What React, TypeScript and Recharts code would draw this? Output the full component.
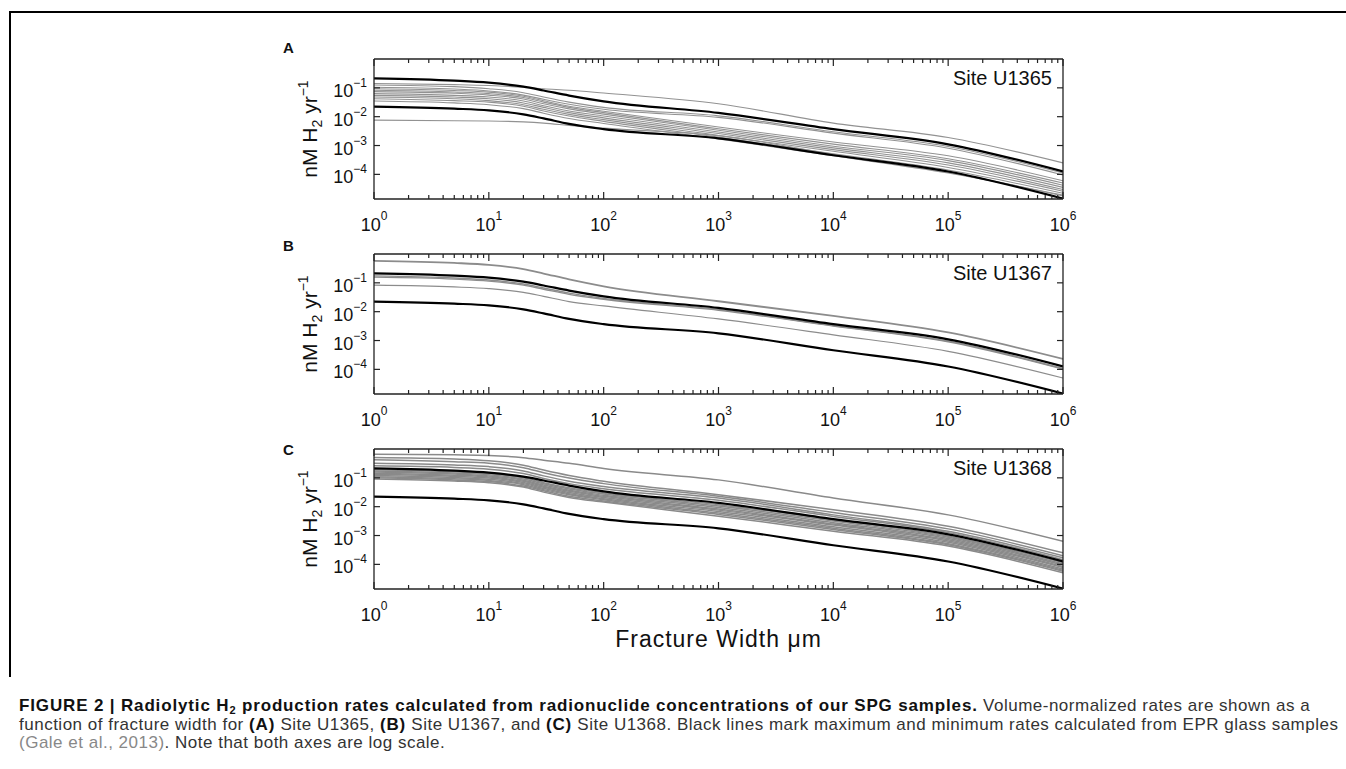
import { LineChart, Line, XAxis, YAxis } from 'recharts';

const widths = [1, 5, 10, 20, 30, 50, 100, 1000, 10000, 100000, 1000000];
const xMajor = [1, 10, 100, 1000, 10000, 100000, 1000000];
const yMajor = [1e-4, 1e-3, 1e-2, 1e-1];

// EPR glass max / min (black lines, same in every panel)
const eprMax = [2.14e-1, 1.78e-1, 1.51e-1, 1.1e-1, 8.1e-2, 5.4e-2, 3.4e-2, 1.35e-2, 3.7e-3, 1.1e-3, 1.26e-4];
const eprMin = [2.24e-2, 1.9e-2, 1.66e-2, 1.2e-2, 8.7e-3, 5.6e-3, 3.7e-3, 1.78e-3, 4.6e-4, 1.26e-4, 1.45e-5];

// Site U1365 samples
const u1365 = [
  [1.41e-1, 1.29e-1, 1.2e-1, 1.05e-1, 9.3e-2, 8.3e-2, 6.6e-2, 2.8e-2, 6.0e-3, 1.9e-3, 2.5e-4],
  [1.26e-1, 1.1e-1, 9.3e-2, 6.8e-2, 4.8e-2, 3.2e-2, 2.1e-2, 1.07e-2, 3.0e-3, 9.3e-4, 1.12e-4],
  [1.05e-1, 9.1e-2, 7.8e-2, 5.6e-2, 4.0e-2, 2.7e-2, 1.8e-2, 9.5e-3, 2.7e-3, 8.1e-4, 9.5e-5],
  [9.3e-2, 8.1e-2, 7.1e-2, 5.1e-2, 3.55e-2, 2.3e-2, 1.55e-2, 4.4e-3, 1.32e-3, 4.4e-4, 6.0e-5],
  [8.3e-2, 7.2e-2, 6.3e-2, 4.6e-2, 3.2e-2, 2.1e-2, 1.38e-2, 3.8e-3, 1.12e-3, 3.5e-4, 5.0e-5],
  [7.4e-2, 6.5e-2, 5.6e-2, 4.1e-2, 2.8e-2, 1.86e-2, 1.23e-2, 3.4e-3, 9.5e-4, 3.0e-4, 4.2e-5],
  [6.3e-2, 5.5e-2, 4.8e-2, 3.5e-2, 2.4e-2, 1.58e-2, 1.05e-2, 2.95e-3, 8.3e-4, 2.5e-4, 3.55e-5],
  [5.5e-2, 4.8e-2, 4.2e-2, 3.0e-2, 2.1e-2, 1.38e-2, 9.1e-3, 2.6e-3, 7.2e-4, 2.1e-4, 3.0e-5],
  [4.8e-2, 4.2e-2, 3.6e-2, 2.6e-2, 1.8e-2, 1.2e-2, 7.9e-3, 2.24e-3, 6.3e-4, 1.74e-4, 2.6e-5],
  [4.2e-2, 3.6e-2, 3.2e-2, 2.3e-2, 1.58e-2, 1.05e-2, 6.9e-3, 1.95e-3, 5.2e-4, 1.41e-4, 2.2e-5],
  [3.5e-2, 3.0e-2, 2.6e-2, 1.9e-2, 1.32e-2, 8.7e-3, 5.8e-3, 1.7e-3, 4.4e-4, 1.12e-4, 1.9e-5],
  [7.6e-3, 7.2e-3, 7.1e-3, 6.6e-3, 6.0e-3, 5.0e-3, 4.0e-3, 2.2e-3, 5.0e-4, 1.2e-4, 1.8e-5],
];

// Site U1367 samples
const u1367 = [
  [5.75e-1, 4.9e-1, 4.2e-1, 3.0e-1, 2.1e-1, 1.32e-1, 7.6e-2, 2.3e-2, 7.1e-3, 1.9e-3, 2.3e-4],
  [1.74e-1, 1.48e-1, 1.26e-1, 9.1e-2, 6.6e-2, 4.4e-2, 2.9e-2, 1.2e-2, 3.3e-3, 9.5e-4, 1.07e-4],
  [1.58e-1, 1.35e-1, 1.15e-1, 8.3e-2, 6.0e-2, 4.0e-2, 2.7e-2, 1.12e-2, 3.2e-3, 9.1e-4, 1.02e-4],
  [8.3e-2, 7.2e-2, 6.3e-2, 4.7e-2, 3.4e-2, 2.24e-2, 1.58e-2, 5.6e-3, 1.58e-3, 4.2e-4, 5.0e-5],
];

// Site U1368 samples
const u1368 = [
  [6.6e-1, 6.3e-1, 6.0e-1, 5.0e-1, 4.1e-1, 3.2e-1, 2.1e-1, 8.5e-2, 2.0e-2, 5.2e-3, 6.3e-4],
  [5.1e-1, 4.5e-1, 3.9e-1, 2.75e-1, 1.86e-1, 1.2e-1, 7.6e-2, 2.6e-2, 7.9e-3, 2.1e-3, 2.5e-4],
  [4.2e-1, 3.6e-1, 3.2e-1, 2.24e-1, 1.51e-1, 9.8e-2, 6.3e-2, 2.3e-2, 6.3e-3, 1.7e-3, 2.0e-4],
  [3.2e-1, 2.8e-1, 2.45e-1, 1.74e-1, 1.17e-1, 7.6e-2, 5.0e-2, 2.0e-2, 5.2e-3, 1.4e-3, 1.7e-4],
  [2.6e-1, 2.3e-1, 2.0e-1, 1.41e-1, 9.5e-2, 6.3e-2, 4.2e-2, 1.66e-2, 4.6e-3, 1.26e-3, 1.45e-4],
  [1.9e-1, 1.62e-1, 1.41e-1, 1.0e-1, 6.8e-2, 4.5e-2, 3.0e-2, 1.17e-2, 3.55e-3, 9.5e-4, 1.15e-4],
  [1.74e-1, 1.48e-1, 1.29e-1, 9.1e-2, 6.2e-2, 4.1e-2, 2.75e-2, 1.05e-2, 3.2e-3, 8.7e-4, 1.05e-4],
  [1.58e-1, 1.35e-1, 1.17e-1, 8.3e-2, 5.6e-2, 3.7e-2, 2.5e-2, 9.3e-3, 2.8e-3, 7.9e-4, 9.5e-5],
  [1.45e-1, 1.23e-1, 1.07e-1, 7.6e-2, 5.1e-2, 3.4e-2, 2.3e-2, 8.3e-3, 2.5e-3, 7.1e-4, 8.5e-5],
  [1.32e-1, 1.12e-1, 9.8e-2, 6.9e-2, 4.7e-2, 3.1e-2, 2.1e-2, 7.6e-3, 2.3e-3, 6.5e-4, 7.8e-5],
  [1.2e-1, 1.02e-1, 8.9e-2, 6.3e-2, 4.3e-2, 2.8e-2, 1.9e-2, 6.8e-3, 2.0e-3, 5.8e-4, 6.9e-5],
  [1.1e-1, 9.3e-2, 8.1e-2, 5.8e-2, 3.9e-2, 2.6e-2, 1.74e-2, 6.0e-3, 1.8e-3, 5.2e-4, 6.3e-5],
  [1.0e-1, 8.5e-2, 7.4e-2, 5.2e-2, 3.55e-2, 2.3e-2, 1.58e-2, 5.4e-3, 1.62e-3, 4.8e-4, 5.8e-5],
  [9.1e-2, 7.8e-2, 6.8e-2, 4.8e-2, 3.2e-2, 2.1e-2, 1.45e-2, 4.7e-3, 1.41e-3, 4.3e-4, 5.1e-5],
];

const FONT = '"Liberation Sans", Arial, Helvetica, sans-serif';
const AXIS = '#222';

const xTicks = xMajor.slice(0, -1).flatMap((d) => [1, 2, 3, 4, 5, 6, 7, 8, 9].map((k) => k * d)).concat([1e6]);

const buildRows = (gray: number[][]) =>
  widths.map((w, i) => {
    const row: Record<string, number> = { w, max: eprMax[i], min: eprMin[i] };
    gray.forEach((g, j) => {
      row['g' + j] = g[i];
    });
    return row;
  });

const exp = (v: number) => {
  const e = Math.round(Math.log10(v));
  return e < 0 ? '\u2212' + -e : String(e);
};

const XTickBottom = ({ x, y, payload }: any) => {
  const major = xMajor.includes(payload.value);
  return (
    <g>
      <line x1={x} x2={x} y1={y} y2={y - (major ? 7 : 4)} stroke={AXIS} strokeWidth={1.2} />
      {major && (
        <text x={x} y={y + 32} textAnchor="middle" fontSize={18} fontFamily={FONT} fill="#111">
          10<tspan dy={-11} fontSize={12}>{exp(payload.value)}</tspan>
        </text>
      )}
    </g>
  );
};

const XTickTop = ({ x, y, payload }: any) => {
  const major = xMajor.includes(payload.value);
  return <line x1={x} x2={x} y1={y} y2={y + (major ? 7 : 4)} stroke={AXIS} strokeWidth={1.2} />;
};

const YTickLeft = ({ x, y, payload }: any) => (
  <g>
    <line x1={x} x2={x + 6} y1={y} y2={y} stroke={AXIS} strokeWidth={1.2} />
    <text x={x - 7} y={y + 9} textAnchor="end" fontSize={18} fontFamily={FONT} fill="#111">
      10<tspan dy={-10} fontSize={12}>{exp(payload.value)}</tspan>
    </text>
  </g>
);

const YTickRight = ({ x, y }: any) => (
  <line x1={x} x2={x - 6} y1={y} y2={y} stroke={AXIS} strokeWidth={1.2} />
);

type PanelProps = {
  plotTop: number;
  gray: number[][];
  grayWidths: number[];
  grayColor: string;
  site: string;
  letter: string;
  letterBaseline: number;
};

const Panel = ({ plotTop, gray, grayWidths, grayColor, site, letter, letterBaseline }: PanelProps) => {
  const rows = buildRows(gray);
  const axisLine = { stroke: AXIS, strokeWidth: 1.3 };
  return (
    <>
      <div style={{ position: 'absolute', left: 200, top: plotTop - 20 }}>
        <LineChart width={894} height={204} data={rows} margin={{ top: 19, right: 30, bottom: 0, left: 0 }}>
          <XAxis
            xAxisId="b"
            dataKey="w"
            type="number"
            scale="log"
            domain={[1, 1e6]}
            allowDataOverflow
            ticks={xTicks}
            interval={0}
            height={44}
            tickSize={0}
            tickMargin={0}
            tickLine={false}
            axisLine={axisLine}
            tick={XTickBottom}
          />
          <XAxis
            xAxisId="t"
            orientation="top"
            dataKey="w"
            type="number"
            scale="log"
            domain={[1, 1e6]}
            allowDataOverflow
            ticks={xTicks}
            interval={0}
            height={1}
            tickSize={0}
            tickMargin={0}
            tickLine={false}
            axisLine={axisLine}
            tick={XTickTop}
          />
          <YAxis
            yAxisId="l"
            type="number"
            scale="log"
            domain={[1.4e-5, 1]}
            allowDataOverflow
            ticks={yMajor}
            interval={0}
            width={174}
            tickSize={0}
            tickMargin={0}
            tickLine={false}
            axisLine={axisLine}
            tick={YTickLeft}
          />
          <YAxis
            yAxisId="r"
            orientation="right"
            type="number"
            scale="log"
            domain={[1.4e-5, 1]}
            allowDataOverflow
            ticks={yMajor}
            interval={0}
            width={1}
            tickSize={0}
            tickMargin={0}
            tickLine={false}
            axisLine={axisLine}
            tick={YTickRight}
          />
          {gray.map((_, j) => (
            <Line
              key={j}
              xAxisId="b"
              yAxisId="l"
              dataKey={'g' + j}
              type="monotone"
              stroke={grayColor}
              strokeWidth={grayWidths[j] ?? grayWidths[0]}
              dot={false}
              isAnimationActive={false}
            />
          ))}
          <Line xAxisId="b" yAxisId="l" dataKey="max" type="monotone" stroke="#000" strokeWidth={2.2} dot={false} isAnimationActive={false} />
          <Line xAxisId="b" yAxisId="l" dataKey="min" type="monotone" stroke="#000" strokeWidth={2.2} dot={false} isAnimationActive={false} />
        </LineChart>
      </div>
      <div style={{ position: 'absolute', left: 283, top: letterBaseline - 12.7, fontSize: 15, lineHeight: '15px', fontWeight: 700 }}>
        {letter}
      </div>
      <div style={{ position: 'absolute', left: 852, width: 200, top: plotTop + 9, fontSize: 20, lineHeight: '20px', textAlign: 'right' }}>
        {site}
      </div>
      <div
        style={{
          position: 'absolute',
          left: 311,
          top: plotTop + 70,
          transform: 'translate(-50%, -50%) rotate(-90deg)',
          fontSize: 21,
          lineHeight: '21px',
          whiteSpace: 'nowrap',
        }}
      >
        nM H<span style={{ fontSize: 14, position: 'relative', top: 5 }}>2</span> yr
        <span style={{ fontSize: 14, position: 'relative', top: -9 }}>{'\u22121'}</span>
      </div>
    </>
  );
};

const bold = { color: '#111', letterSpacing: 0.85 };

export default function App() {
  return (
    <div style={{ position: 'fixed', inset: 0, overflow: 'hidden', background: '#fff', fontFamily: FONT, color: '#111' }}>
      <div style={{ position: 'absolute', left: 9, top: 11, width: 2000, height: 664, borderTop: '2px solid #000', borderLeft: '2px solid #000' }} />
      <Panel plotTop={59} gray={u1365} grayWidths={[1.1]} grayColor="#929292" site="Site U1365" letter="A" letterBaseline={53} />
      <Panel plotTop={254} gray={u1367} grayWidths={[1.8, 1.4, 1.4, 1.2]} grayColor="#8c8c8c" site="Site U1367" letter="B" letterBaseline={251} />
      <Panel plotTop={449} gray={u1368} grayWidths={[1.5]} grayColor="#8a8a8a" site="Site U1368" letter="C" letterBaseline={455} />
      <div style={{ position: 'absolute', left: 418.5, width: 600, top: 628, fontSize: 23, lineHeight: '22px', letterSpacing: 1, textAlign: 'center' }}>
        Fracture Width μm
      </div>
      <div style={{ position: 'absolute', left: 19, top: 697, fontSize: 17, lineHeight: '18px', color: '#333', whiteSpace: 'nowrap', letterSpacing: 0.5 }}>
        <div>
          <b style={bold}>
            FIGURE 2 | Radiolytic H<span style={{ fontSize: 11, position: 'relative', top: 3 }}>2</span> production rates calculated from
            radionuclide concentrations of our SPG samples.
          </b>{' '}
          Volume-normalized rates are shown as a
        </div>
        <div>
          function of fracture width for <b style={bold}>(A)</b> Site U1365, <b style={bold}>(B)</b> Site U1367, and{' '}
          <b style={bold}>(C)</b> Site U1368. Black lines mark maximum and minimum rates calculated from EPR glass samples
        </div>
        <div>
          <span style={{ color: '#888' }}>(Gale et al., 2013)</span>. Note that both axes are log scale.
        </div>
      </div>
    </div>
  );
}
